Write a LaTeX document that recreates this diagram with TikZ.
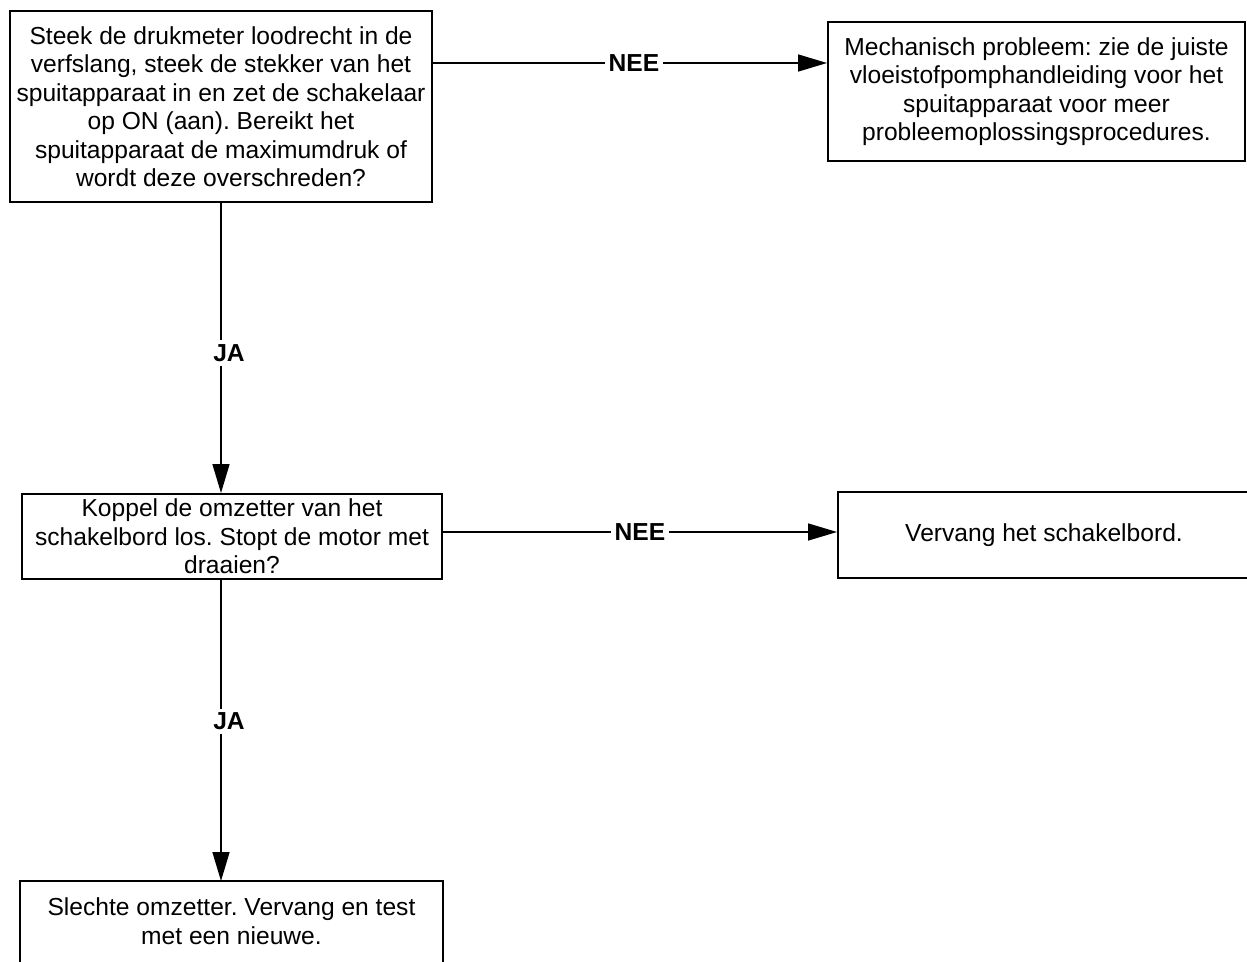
\documentclass[tikz,border=0pt]{standalone}
\usepackage{fontspec}
\setmainfont{Liberation Sans}
\usetikzlibrary{arrows.meta}
\frenchspacing

\begin{document}
\begin{tikzpicture}[x=0.5pt,y=-0.5pt,
  box/.style={draw,line width=1pt,align=center,inner sep=0pt,
    font=\fontsize{12.3pt}{14.25pt}\selectfont},
  arr/.style={line width=0.8pt,-{Triangle[length=14.5pt,width=8.5pt]}},
  lbl/.style={fill=white,inner sep=2pt,font=\fontsize{12.3pt}{14.25pt}\selectfont\bfseries}]
  \useasboundingbox (0,0) rectangle (1247,962);
  % vragen
  \node[box,minimum width=211pt,minimum height=95.5pt] (q1) at (221,106.5)
    {Steek de drukmeter loodrecht in de\\verfslang, steek de stekker van het\\
     spuitapparaat in en zet de schakelaar\\op ON (aan). Bereikt het\\
     spuitapparaat de maximumdruk of\\wordt deze overschreden?};
  \node[box,minimum width=210pt,minimum height=42.5pt] (q2) at (232,536.5)
    {Koppel de omzetter van het\\schakelbord los. Stopt de motor met\\draaien?};
  % oplossingen
  \node[box,minimum width=208.5pt,minimum height=69.5pt] (r1) at (1036.5,91.5)
    {Mechanisch probleem: zie de juiste\\vloeistofpomphandleiding voor het\\
     spuitapparaat voor meer\\probleemoplossingsprocedures.};
  \node[box,minimum width=206pt,minimum height=43pt] (r2) at (1044,535)
    {Vervang het schakelbord.};
  \node[box,draw=none,anchor=north,minimum width=210.5pt,minimum height=39pt] (r3) at (231.5,881)
    {Slechte omzetter. Vervang en test\\met een nieuwe.};
  \draw[line width=1pt] ([yshift=-10pt]r3.south west) -- (r3.north west)
    -- (r3.north east) -- ([yshift=-10pt]r3.south east);
  % verbindingen
  \coordinate (y1) at (0,63);
  \coordinate (y2) at (0,532);
  \draw[arr] (q1.east |- y1) -- (r1.west |- y1) node[lbl,pos=0.51] (nee1) {NEE};
  \draw[arr] (q2.east |- y2) -- (r2.west |- y2) node[lbl,pos=0.5] (nee2) {NEE};
  \draw[arr] (q1.south) -- (q1.south |- q2.north) node[lbl,pos=0.517,xshift=4pt] (ja1) {JA};
  \draw[arr] (q1.south |- q2.south) -- (q1.south |- r3.north) node[lbl,pos=0.47,xshift=4pt] (ja2) {JA};
\end{tikzpicture}
\end{document}
